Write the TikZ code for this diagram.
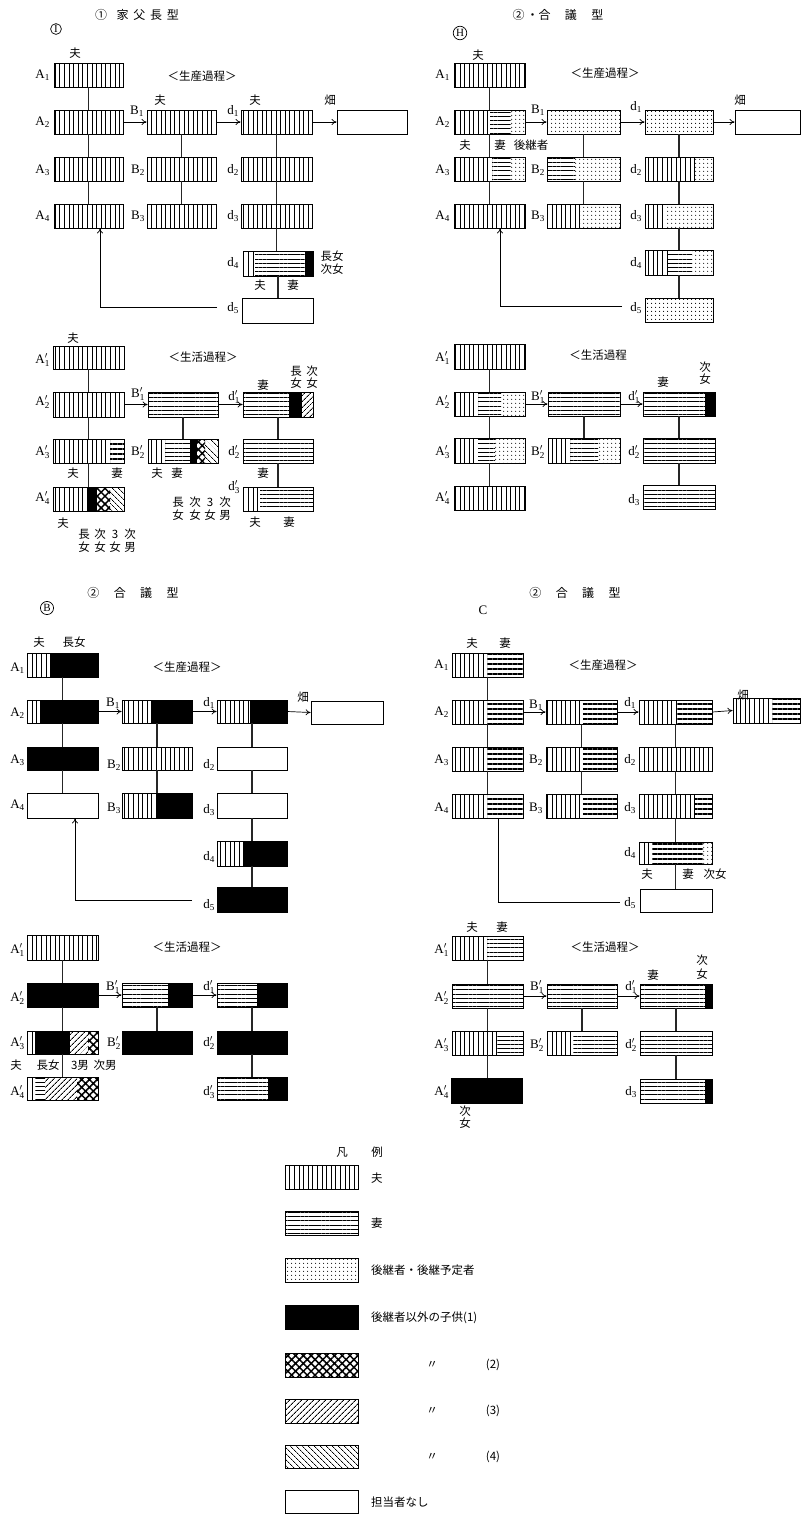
\documentclass[tikz,border=0pt]{standalone}
\usepackage{fontspec}
\setmainfont{Liberation Serif}
\newfontfamily\cjk{Noto Sans CJK JP}
\usetikzlibrary{patterns.meta,fit,arrows.meta}
\tikzset{
 box/.style={draw, line width=0.9pt, inner sep=0pt},
 seg/.style={#1},
 pv/.style={pattern={Lines[angle=90,distance=4.6pt,line width=0.9pt]}},
 ph/.style={pattern={Lines[angle=0,distance=4.2pt,line width=0.8pt]}},
 phb/.style={pattern={Lines[angle=0,distance=5pt,line width=1.6pt]}},
 pd/.style={pattern={Dots[distance=4pt,radius=0.65pt]}},
 pk/.style={fill=black},
 px/.style={pattern={Hatch[angle=45,distance=5.5pt,line width=1.5pt]}},
 pne/.style={pattern={Lines[angle=45,distance=4pt,line width=0.9pt]}},
 pnw/.style={pattern={Lines[angle=-45,distance=4pt,line width=0.7pt]}},
 pw/.style={},
 link/.style={line width=1.8pt, black!85},
 arr/.style={line width=0.7pt, -{To[length=5pt,width=6pt]}},
 fb/.style={line width=0.7pt},
 lab/.style={inner sep=0pt, anchor=east, font=\fontsize{13}{13}\selectfont},
 jp/.style={inner sep=0pt, font=\cjk\fontsize{11.5}{13}\selectfont, align=center},
 ttl/.style={inner sep=0pt, font=\cjk\fontsize{12}{12}\selectfont},
 circ/.style={circle, draw, line width=0.7pt, inner sep=1pt, font=\fontsize{11}{11}\selectfont},
}
\newcommand\bx[6]{%
  \foreach \sa/\sb/\st in {#6}{\path[seg/.expand once=\st] (\sa,#3) rectangle (\sb,#5);}%
  \node[box, fit={(#2,#3) (#4,#5)}] (#1) {};%
}
\newcommand\lb[4]{\node[lab] (#1) at (#2,#3) {$\mathrm{#4}$};}
\newcommand\jt[4]{\node[jp] (#1) at (#2,#3) {#4};}
\newcommand\lk[2]{\draw[link] (#1.south) -- (#1.south |- #2.north);}
\begin{document}
\begin{tikzpicture}[x=1pt,y=-1pt]
\useasboundingbox[fill=white] (0,0) rectangle (801,1519);

% ================= Panel I production =================
\node[ttl] (It) at (137,15) {①\hspace{0.8em}家\hspace{0.4em}父\hspace{0.4em}長\hspace{0.4em}型};
\node[circ] (Ic) at (56,29) {I};
\bx{IA1}{54}{63}{123}{87}{54/123/pv}
\bx{IA2}{54}{110}{123}{134}{54/123/pv}
\bx{IA3}{54}{157}{123}{181}{54/123/pv}
\bx{IA4}{54}{204}{123}{228}{54/123/pv}
\bx{IB1}{147}{110}{216}{134}{147/216/pv}
\bx{IB2}{147}{157}{216}{181}{147/216/pv}
\bx{IB3}{147}{204}{216}{228}{147/216/pv}
\bx{Id1}{241}{110}{312}{134}{241/312/pv}
\bx{Id2}{241}{157}{312}{181}{241/312/pv}
\bx{Id3}{241}{204}{312}{228}{241/312/pv}
\bx{Id4}{243}{251}{313}{276}{243/255/pv,255/305/ph,305/313/pk}
\bx{Id5}{242}{298}{313}{323}{242/313/pw}
\bx{IF}{337}{110}{407}{134}{337/407/pw}
\lk{IA1}{IA2}\lk{IA2}{IA3}\lk{IA3}{IA4}
\lk{IB1}{IB2}\lk{IB2}{IB3}
\lk{Id1}{Id2}\lk{Id2}{Id3}\lk{Id3}{Id4}\lk{Id4}{Id5}
\draw[arr] (IA2.east) -- (IB1.west);
\draw[arr] (IB1.east) -- (Id1.west);
\draw[arr] (Id1.east) -- (IF.west);
\coordinate (Ifb) at (217,307);
\draw[arr] (Ifb) -| ([xshift=11.5pt]IA4.south);
\lb{IlA1}{50}{75}{A_1}\lb{IlA2}{50}{122}{A_2}\lb{IlA3}{50}{170}{A_3}\lb{IlA4}{50}{216}{A_4}
\lb{IlB1}{144}{111}{B_1}\lb{IlB2}{145}{170}{B_2}\lb{IlB3}{145}{216}{B_3}
\lb{Ild1}{239}{111}{d_1}\lb{Ild2}{239}{170}{d_2}\lb{Ild3}{239}{216}{d_3}\lb{Ild4}{239}{263}{d_4}\lb{Ild5}{239}{308}{d_5}
\jt{Ij1}{75}{53}{夫}
\jt{Ij2}{202}{76}{＜生産過程＞}
\jt{Ij3}{160}{100}{夫}
\jt{Ij4}{255}{100}{夫}
\jt{Ij5}{330}{100}{畑}
\jt{Ij6}{332}{263}{長女\\次女}
\jt{Ij7}{260}{285}{夫}
\jt{Ij8}{293}{285}{妻}

% ================= Panel I life =================
\bx{IpA1}{53}{346}{124}{369}{53/124/pv}
\bx{IpA2}{53}{392}{124}{417}{53/124/pv}
\bx{IpA3}{53}{439}{124}{463}{53/110/pv,110/124/phb}
\bx{IpA4}{53}{487}{124}{511}{53/88/pv,88/97/pk,97/110/px,110/124/pnw}
\bx{IpB1}{148}{392}{218}{417}{148/218/ph}
\bx{IpB2}{148}{439}{218}{463}{148/165/pv,165/190/ph,190/197/pk,197/205/px,205/218/pnw}
\bx{Ipd1}{243}{392}{313}{417}{243/289/ph,289/302/pk,302/313/pne}
\bx{Ipd2}{243}{439}{313}{463}{243/313/ph}
\bx{Ipd3}{243}{487}{313}{511}{243/260/pv,260/313/ph}
\lk{IpA1}{IpA2}\lk{IpA2}{IpA3}\lk{IpA3}{IpA4}
\lk{IpB1}{IpB2}
\lk{Ipd1}{Ipd2}\lk{Ipd2}{Ipd3}
\draw[arr] (IpA2.east) -- (IpB1.west);
\draw[arr] (IpB1.east) -- (Ipd1.west);
\lb{IplA1}{50}{360}{A_1'}\lb{IplA2}{50}{402}{A_2'}\lb{IplA3}{50}{452}{A_3'}\lb{IplA4}{50}{498}{A_4'}
\lb{IplB1}{145}{394}{B_1'}\lb{IplB2}{145}{452}{B_2'}
\lb{Ipld1}{240}{397}{d_1'}\lb{Ipld2}{240}{452}{d_2'}\lb{Ipld3}{240}{487}{d_3'}
\jt{Ipj1}{73}{338}{夫}
\jt{Ipj2}{203}{357}{＜生活過程＞}
\jt{Ipj3}{73}{473}{夫}
\jt{Ipj4}{117}{473}{妻}
\jt{Ipj5}{157}{473}{夫}
\jt{Ipj6}{177}{473}{妻}
\jt{Ipj7}{263}{473}{妻}
\jt{Ipj8}{63}{523}{夫}
\jt{Ipj9}{84}{541}{長\\女}
\jt{Ipj10}{100}{541}{次\\女}
\jt{Ipj11}{115}{541}{3\\女}
\jt{Ipj12}{130}{541}{次\\男}
\jt{Ipj13}{178}{509}{長\\女}
\jt{Ipj14}{195}{509}{次\\女}
\jt{Ipj15}{210}{509}{3\\女}
\jt{Ipj16}{225}{509}{次\\男}
\jt{Ipj17}{263}{385}{妻}
\node[jp, font=\cjk\fontsize{11.5}{12}\selectfont] (Ipj18) at (296,377) {長\\女};
\node[jp, font=\cjk\fontsize{11.5}{12}\selectfont] (Ipj19) at (312,377) {次\\女};
\jt{Ipj20}{255}{522}{夫}
\jt{Ipj21}{289}{522}{妻}

% ================= Panel H production =================
\node[ttl] (Ht) at (558,15) {②\,・合\hspace{1.2em}議\hspace{1.2em}型};
\node[circ] (Hc) at (460,33) {H};
\bx{HA1}{454}{63}{525}{87}{454/525/pv}
\bx{HA2}{454}{110}{525}{134}{454/490/pv,490/511/ph,511/525/pd}
\bx{HA3}{454}{157}{525}{181}{454/492/pv,492/511/ph,511/525/pd}
\bx{HA4}{454}{204}{525}{228}{454/525/pv}
\bx{HB1}{547}{110}{620}{134}{547/620/pd}
\bx{HB2}{547}{157}{620}{181}{547/575/ph,575/620/pd}
\bx{HB3}{547}{204}{620}{228}{547/580/pv,580/620/pd}
\bx{Hd1}{645}{110}{713}{134}{645/713/pd}
\bx{Hd2}{645}{157}{713}{181}{645/695/pv,695/713/pd}
\bx{Hd3}{645}{204}{713}{228}{645/665/pv,665/713/pd}
\bx{Hd4}{645}{250}{713}{275}{645/668/pv,668/692/ph,692/713/pd}
\bx{Hd5}{645}{298}{713}{322}{645/713/pd}
\bx{HF}{735}{110}{800}{134}{735/800/pw}
\lk{HA1}{HA2}\lk{HA2}{HA3}\lk{HA3}{HA4}
\lk{HB1}{HB2}\lk{HB2}{HB3}
\lk{Hd1}{Hd2}\lk{Hd2}{Hd3}\lk{Hd3}{Hd4}\lk{Hd4}{Hd5}
\draw[arr] (HA2.east) -- (HB1.west);
\draw[arr] (HB1.east) -- (Hd1.west);
\draw[arr] (Hd1.east) -- (HF.west);
\coordinate (Hfb) at (622,306);
\draw[arr] (Hfb) -| ([xshift=10.5pt]HA4.south);
\lb{HlA1}{450}{75}{A_1}\lb{HlA2}{450}{122}{A_2}\lb{HlA3}{450}{170}{A_3}\lb{HlA4}{450}{216}{A_4}
\lb{HlB1}{545}{110}{B_1}\lb{HlB2}{545}{170}{B_2}\lb{HlB3}{545}{216}{B_3}
\lb{Hld1}{642}{107}{d_1}\lb{Hld2}{642}{170}{d_2}\lb{Hld3}{642}{216}{d_3}\lb{Hld4}{642}{263}{d_4}\lb{Hld5}{642}{308}{d_5}
\jt{Hj1}{478}{55}{夫}
\jt{Hj2}{605}{73}{＜生産過程＞}
\jt{Hj3}{465}{145}{夫}
\jt{Hj4}{500}{145}{妻}
\jt{Hj5}{531}{145}{後継者}
\jt{Hj6}{740}{100}{畑}

% ================= Panel H life =================
\bx{HpA1}{454}{344}{525}{369}{454/525/pv}
\bx{HpA2}{454}{392}{525}{416}{454/478/pv,478/501/ph,501/525/pd}
\bx{HpA3}{454}{438}{525}{463}{454/475/pv,478/495/ph,495/525/pd}
\bx{HpA4}{454}{486}{525}{510}{454/525/pv}
\bx{HpB1}{548}{392}{620}{416}{548/620/ph}
\bx{HpB2}{548}{438}{620}{463}{548/570/pv,570/598/ph,598/620/pd}
\bx{Hpd1}{643}{392}{715}{416}{643/705/ph,705/715/pk}
\bx{Hpd2}{643}{438}{715}{463}{643/715/ph}
\bx{Hpd3}{643}{485}{715}{509}{643/715/ph}
\lk{HpA1}{HpA2}\lk{HpA2}{HpA3}\lk{HpA3}{HpA4}
\lk{HpB1}{HpB2}
\lk{Hpd1}{Hpd2}\lk{Hpd2}{Hpd3}
\draw[arr] (HpA2.east) -- (HpB1.west);
\draw[arr] (HpB1.east) -- (Hpd1.west);
\lb{HplA1}{450}{358}{A_1'}\lb{HplA2}{450}{402}{A_2'}\lb{HplA3}{450}{452}{A_3'}\lb{HplA4}{450}{498}{A_4'}
\lb{HplB1}{545}{397}{B_1'}\lb{HplB2}{545}{452}{B_2'}
\lb{Hpld1}{640}{397}{d_1'}\lb{Hpld2}{640}{452}{d_2'}\lb{Hpld3}{640}{500}{d_3}
\jt{Hpj1}{598}{355}{＜生活過程}
\jt{Hpj2}{663}{382}{妻}
\node[jp, font=\cjk\fontsize{11.5}{12.5}\selectfont] (Hpj3) at (705,373) {次\\女};

% ================= Panel B production =================
\node[ttl] (Bt) at (133,593) {②\hspace{1.2em}合\hspace{1.2em}議\hspace{1.2em}型};
\node[circ] (Bc) at (47,608) {B};
\bx{BA1}{27}{653}{98}{677}{27/51/pv,51/98/pk}
\bx{BA2}{27}{700}{98}{723}{27/40/pv,40/98/pk}
\bx{BA3}{27}{747}{98}{770}{27/98/pk}
\bx{BA4}{27}{793}{98}{818}{27/98/pw}
\bx{BB1}{122}{700}{192}{723}{122/151/pv,151/192/pk}
\bx{BB2}{122}{747}{192}{770}{122/192/pv}
\bx{BB3}{122}{793}{192}{818}{122/157/pv,157/192/pk}
\bx{Bd1}{217}{700}{287}{723}{217/250/pv,250/287/pk}
\bx{Bd2}{217}{747}{287}{770}{217/287/pw}
\bx{Bd3}{217}{793}{287}{818}{217/287/pw}
\bx{Bd4}{217}{841}{287}{866}{217/243/pv,243/287/pk}
\bx{Bd5}{217}{887}{287}{912}{217/287/pk}
\bx{BF}{311}{701}{383}{724}{311/383/pw}
\lk{BA1}{BA2}\lk{BA2}{BA3}\lk{BA3}{BA4}
\lk{BB1}{BB2}\lk{BB2}{BB3}
\lk{Bd1}{Bd2}\lk{Bd2}{Bd3}\lk{Bd3}{Bd4}\lk{Bd4}{Bd5}
\draw[arr] (BA2.east) -- (BB1.west);
\draw[arr] (BB1.east) -- (Bd1.west);
\draw[arr] (Bd1.east) -- (BF.west);
\coordinate (Bfb) at (192,900);
\draw[arr] (Bfb) -| ([xshift=12.5pt]BA4.south);
\lb{BlA1}{25}{668}{A_1}\lb{BlA2}{25}{713}{A_2}\lb{BlA3}{25}{760}{A_3}\lb{BlA4}{25}{805}{A_4}
\lb{BlB1}{120}{703}{B_1}\lb{BlB2}{121}{765}{B_2}\lb{BlB3}{121}{808}{B_3}
\lb{Bld1}{215}{703}{d_1}\lb{Bld2}{215}{765}{d_2}\lb{Bld3}{215}{810}{d_3}\lb{Bld4}{215}{857}{d_4}\lb{Bld5}{215}{905}{d_5}
\jt{Bj1}{39}{642}{夫}
\jt{Bj2}{74}{642}{長女}
\jt{Bj3}{187}{667}{＜生産過程＞}
\jt{Bj4}{303}{697}{畑}

% ================= Panel B life =================
\bx{BpA1}{27}{935}{98}{960}{27/98/pv}
\bx{BpA2}{27}{983}{98}{1007}{27/98/pk}
\bx{BpA3}{27}{1031}{98}{1054}{27/35/pv,35/70/pk,70/88/pne,88/98/px}
\bx{BpA4}{27}{1077}{98}{1100}{27/35/pv,35/45/ph,45/77/pne,77/98/px}
\bx{BpB1}{122}{983}{192}{1007}{122/168/ph,168/192/pk}
\bx{BpB2}{122}{1031}{192}{1054}{122/192/pk}
\bx{Bpd1}{217}{983}{287}{1007}{217/257/ph,257/287/pk}
\bx{Bpd2}{217}{1031}{287}{1054}{217/287/pk}
\bx{Bpd3}{217}{1077}{287}{1100}{217/268/ph,268/287/pk}
\lk{BpA1}{BpA2}\lk{BpA2}{BpA3}\lk{BpA3}{BpA4}
\lk{BpB1}{BpB2}
\lk{Bpd1}{Bpd2}\lk{Bpd2}{Bpd3}
\draw[arr] (BpA2.east) -- (BpB1.west);
\draw[arr] (BpB1.east) -- (Bpd1.west);
\lb{BplA1}{25}{950}{A_1'}\lb{BplA2}{25}{998}{A_2'}\lb{BplA3}{25}{1043}{A_3'}\lb{BplA4}{25}{1092}{A_4'}
\lb{BplB1}{120}{987}{B_1'}\lb{BplB2}{121}{1043}{B_2'}
\lb{Bpld1}{215}{987}{d_1'}\lb{Bpld2}{215}{1043}{d_2'}\lb{Bpld3}{215}{1092}{d_3'}
\jt{Bpj1}{187}{947}{＜生活過程＞}
\jt{Bpj2}{16}{1065}{夫}
\jt{Bpj3}{48}{1065}{長女}
\jt{Bpj4}{80}{1065}{3男}
\jt{Bpj5}{105}{1065}{次男}

% ================= Panel C production =================
\node[ttl] (Ct) at (575,593) {②\hspace{1.2em}合\hspace{1.2em}議\hspace{1.2em}型};
\node[inner sep=0pt, font=\fontsize{13}{13}\selectfont] (Cc) at (483,610) {C};
\bx{CA1}{452}{653}{523}{677}{452/487/pv,487/523/phb}
\bx{CA2}{452}{700}{523}{724}{452/487/pv,487/523/phb}
\bx{CA3}{452}{747}{523}{771}{452/487/pv,487/523/phb}
\bx{CA4}{452}{794}{523}{818}{452/487/pv,487/523/phb}
\bx{CB1}{546}{700}{617}{724}{546/583/pv,583/617/phb}
\bx{CB2}{546}{747}{617}{771}{546/583/pv,583/617/phb}
\bx{CB3}{546}{794}{617}{818}{546/583/pv,583/617/phb}
\bx{Cd1}{639}{700}{712}{724}{639/677/pv,677/712/phb}
\bx{Cd2}{639}{747}{712}{771}{639/712/pv}
\bx{Cd3}{639}{794}{712}{818}{639/695/pv,695/712/phb}
\bx{Cd4}{639}{842}{712}{864}{639/652/pv,652/703/phb,703/712/pd}
\bx{Cd5}{640}{889}{712}{912}{640/712/pw}
\bx{CF}{733}{698}{800}{723}{733/772/pv,772/800/phb}
\lk{CA1}{CA2}\lk{CA2}{CA3}\lk{CA3}{CA4}
\lk{CB1}{CB2}\lk{CB2}{CB3}
\lk{Cd1}{Cd2}\lk{Cd2}{Cd3}\lk{Cd3}{Cd4}\lk{Cd4}{Cd5}
\draw[arr] (CA2.east) -- (CB1.west);
\draw[arr] (CB1.east) -- (Cd1.west);
\draw[arr] (Cd1.east) -- (CF.west);
\coordinate (Cfb) at (620,902);
\draw[fb] ([xshift=10.5pt]CA4.south) |- (Cfb);
\lb{ClA1}{449}{665}{A_1}\lb{ClA2}{449}{712}{A_2}\lb{ClA3}{449}{760}{A_3}\lb{ClA4}{449}{808}{A_4}
\lb{ClB1}{543}{705}{B_1}\lb{ClB2}{543}{760}{B_2}\lb{ClB3}{543}{808}{B_3}
\lb{Cld1}{636}{703}{d_1}\lb{Cld2}{636}{760}{d_2}\lb{Cld3}{636}{808}{d_3}\lb{Cld4}{636}{853}{d_4}\lb{Cld5}{636}{903}{d_5}
\jt{Cj1}{472}{643}{夫}
\jt{Cj2}{505}{643}{妻}
\jt{Cj3}{603}{665}{＜生産過程＞}
\jt{Cj4}{743}{695}{畑}
\jt{Cj5}{647}{874}{夫}
\jt{Cj6}{688}{874}{妻}
\jt{Cj7}{715}{874}{次女}

% ================= Panel C life =================
\bx{CpA1}{452}{936}{523}{960}{452/487/pv,487/523/ph}
\bx{CpA2}{452}{984}{523}{1008}{452/523/ph}
\bx{CpA3}{452}{1031}{523}{1055}{452/497/pv,497/523/ph}
\bx{CpA4}{451}{1078}{522}{1103}{451/522/pk}
\bx{CpB1}{547}{984}{617}{1008}{547/617/ph}
\bx{CpB2}{547}{1031}{617}{1055}{547/573/pv,573/617/ph}
\bx{Cpd1}{640}{984}{712}{1008}{640/705/ph,705/712/pk}
\bx{Cpd2}{640}{1031}{712}{1055}{640/712/ph}
\bx{Cpd3}{640}{1079}{712}{1103}{640/705/ph,705/712/pk}
\lk{CpA1}{CpA2}\lk{CpA2}{CpA3}\lk{CpA3}{CpA4}
\lk{CpB1}{CpB2}
\lk{Cpd1}{Cpd2}\lk{Cpd2}{Cpd3}
\draw[arr] (CpA2.east) -- (CpB1.west);
\draw[arr] (CpB1.east) -- (Cpd1.west);
\lb{CplA1}{449}{950}{A_1'}\lb{CplA2}{449}{998}{A_2'}\lb{CplA3}{449}{1045}{A_3'}\lb{CplA4}{449}{1092}{A_4'}
\lb{CplB1}{544}{987}{B_1'}\lb{CplB2}{544}{1045}{B_2'}
\lb{Cpld1}{637}{987}{d_1'}\lb{Cpld2}{637}{1045}{d_2'}\lb{Cpld3}{637}{1092}{d_3}
\jt{Cpj1}{472}{927}{夫}
\jt{Cpj2}{502}{927}{妻}
\jt{Cpj3}{605}{947}{＜生活過程＞}
\jt{Cpj4}{653}{975}{妻}
\node[jp, font=\cjk\fontsize{11.5}{14}\selectfont] (Cpj5) at (702,967) {次\\女};
\node[jp, font=\cjk\fontsize{11.5}{12}\selectfont] (Cpj6) at (465,1117) {次\\女};

% ================= Legend =================
\jt{Lt1}{342}{1152}{凡}
\jt{Lt2}{377}{1152}{例}
\bx{L1}{285}{1165}{358}{1189}{285/358/pv}
\bx{L2}{285}{1211}{358}{1235}{285/358/ph}
\bx{L3}{285}{1258}{358}{1282}{285/358/pd}
\bx{L4}{285}{1305}{358}{1329}{285/358/pk}
\bx{L5}{285}{1353}{358}{1377}{285/358/px}
\bx{L6}{285}{1399}{358}{1423}{285/358/pne}
\bx{L7}{285}{1445}{358}{1468}{285/358/pnw}
\bx{L8}{285}{1490}{358}{1513}{285/358/pw}
\node[jp, anchor=west] (Lx1) at (371,1178) {夫};
\node[jp, anchor=west] (Lx2) at (371,1223) {妻};
\node[jp, anchor=west] (Lx3) at (371,1270) {後継者・後継予定者};
\node[jp, anchor=west] (Lx4) at (371,1318) {後継者以外の子供(1)};
\jt{Lx5a}{432}{1365}{〃}\jt{Lx5b}{493}{1365}{(2)}
\jt{Lx6a}{432}{1411}{〃}\jt{Lx6b}{493}{1411}{(3)}
\jt{Lx7a}{432}{1457}{〃}\jt{Lx7b}{493}{1457}{(4)}
\node[jp, anchor=west] (Lx8) at (371,1502) {担当者なし};
\end{tikzpicture}
\end{document}
